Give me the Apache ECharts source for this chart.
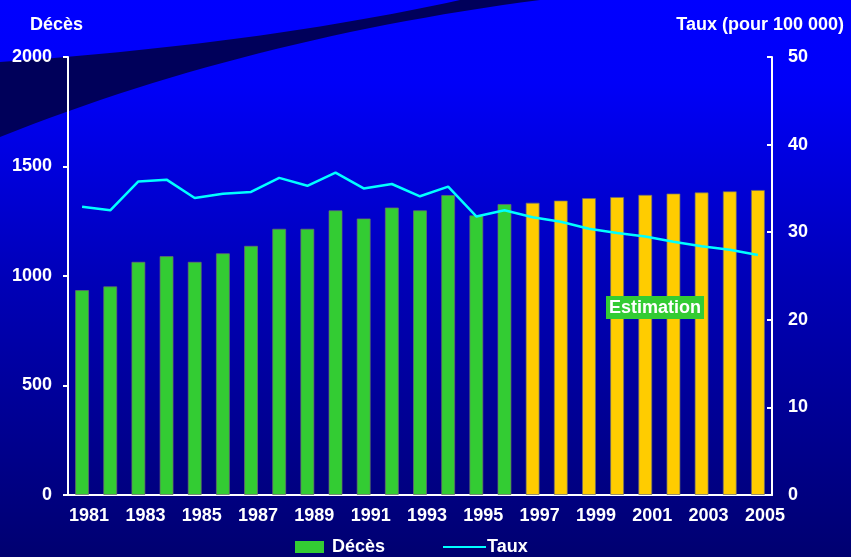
<!DOCTYPE html>
<html>
<head>
    <meta charset="UTF-8">
    <title>Décès et taux</title>
    <style>
        html, body { margin: 0; padding: 0; }
        #chart {
            width: 851px;
            height: 557px;
            background: linear-gradient(to bottom, #0000ff 0%, #0000f8 15%, #0000b8 50%, #000070 100%);
        }
    </style>
</head>
<body>
<div id="chart"></div>
<script src="https://cdn.jsdelivr.net/npm/echarts@6/dist/echarts.min.js"></script>
<script>
    // données
    var annees = ['1981', '1982', '1983', '1984', '1985', '1986', '1987', '1988', '1989', '1990',
        '1991', '1992', '1993', '1994', '1995', '1996', '1997', '1998', '1999', '2000',
        '2001', '2002', '2003', '2004', '2005'];
    var deces = [936, 953, 1065, 1091, 1065, 1104, 1138, 1216, 1216, 1300,
        1263, 1313, 1300, 1370, 1277, 1329, 1335, 1345, 1356, 1361,
        1371, 1377, 1382, 1387, 1393];
    var taux = [32.9, 32.5, 35.8, 36.0, 33.9, 34.4, 34.6, 36.2, 35.3, 36.8,
        35.0, 35.5, 34.1, 35.2, 31.8, 32.5, 31.7, 31.2, 30.4, 29.9,
        29.5, 28.9, 28.4, 28.0, 27.4];
    var premiereEstimation = '1997';

    var vert = '#33cc33';
    var jaune = '#ffcc00';
    var cyan = '#00ffff';
    var police = 'Liberation Sans, Arial, sans-serif';

    var debutEstim = annees.indexOf(premiereEstimation);
    var barres = deces.map(function (v, i) {
        return {
            value: v,
            itemStyle: { color: i >= debutEstim ? jaune : vert }
        };
    });

    // la bande sombre décorative en haut à gauche (deux courbes quadratiques)
    function courbe(p0, c, p1) {
        var pts = [];
        for (var k = 0; k <= 30; k++) {
            var t = k / 30, u = 1 - t;
            pts.push([u * u * p0[0] + 2 * u * t * c[0] + t * t * p1[0],
                      u * u * p0[1] + 2 * u * t * c[1] + t * t * p1[1]]);
        }
        return pts;
    }
    var bande = courbe([0, 62], [260, 44], [460, 0]).concat(courbe([540, 0], [248, 38], [0, 137]));

    var chart = echarts.init(document.getElementById('chart'));
    var txt = { color: '#fff', fontWeight: 'bold', fontFamily: police, fontSize: 18 };
    var lab = { color: '#fff', fontWeight: 'bold', fontFamily: police, fontSize: 18 };

    var option = {
        backgroundColor: 'transparent',
        animation: false,
        graphic: [{
            type: 'polygon',
            z: -1,
            shape: { points: bande },
            style: { fill: '#00005a' }
        }],
        title: [
            { text: 'Décès', left: 25, top: 11, textStyle: txt },
            { text: 'Taux (pour 100 000)', right: 2, top: 11, textStyle: txt },
            {
                text: 'Estimation', left: 606, top: 296, padding: [3, 3, 2, 3],
                backgroundColor: vert, textStyle: txt
            }
        ],
        legend: [{
            data: [{ name: 'Décès', icon: 'rect' }],
            left: 290, top: 533,
            itemWidth: 29, itemHeight: 12,
            itemStyle: { color: vert, borderWidth: 0 },
            textStyle: { color: '#fff', fontWeight: 'bold', fontFamily: police, fontSize: 18, padding: [0, 0, 0, 3] }
        }, {
            data: [{ name: 'Taux', icon: 'rect' }],
            left: 438, top: 533,
            itemWidth: 43, itemHeight: 2,
            itemStyle: { color: cyan, borderWidth: 0 },
            textStyle: { color: '#fff', fontWeight: 'bold', fontFamily: police, fontSize: 18, padding: [0, 0, 0, -4] }
        }],
        grid: { left: 68, right: 79, top: 57, bottom: 62 },
        xAxis: {
            type: 'category',
            data: annees,
            boundaryGap: true,
            axisLine: { lineStyle: { color: '#fff', width: 2 } },
            axisTick: { interval: 0, length: 3, lineStyle: { color: '#fff', width: 2 } },
            axisLabel: Object.assign({ interval: 1, margin: 12, padding: [0, 0, 0, 14] }, lab),
            splitLine: { show: false }
        },
        yAxis: [{
            type: 'value',
            min: 0, max: 2000, interval: 500,
            axisLine: { show: true, lineStyle: { color: '#fff', width: 2 } },
            axisTick: { show: true, length: 5, lineStyle: { color: '#fff', width: 2 } },
            axisLabel: Object.assign({ margin: 16, formatter: function (v) { return String(v); } }, lab),
            splitLine: { show: false }
        }, {
            type: 'value',
            min: 0, max: 50, interval: 10,
            axisLine: { show: true, lineStyle: { color: '#fff', width: 2 } },
            axisTick: { show: true, inside: true, length: 5, lineStyle: { color: '#fff', width: 2 } },
            axisLabel: Object.assign({ margin: 16 }, lab),
            splitLine: { show: false }
        }],
        series: [{
            name: 'Décès',
            type: 'bar',
            data: barres,
            barWidth: 14,
            itemStyle: { color: vert, borderColor: 'rgba(110,110,110,0.7)', borderWidth: 1 }
        }, {
            name: 'Taux',
            type: 'line',
            yAxisIndex: 1,
            data: taux,
            symbol: 'none',
            z: 3,
            itemStyle: { color: cyan },
            lineStyle: { color: cyan, width: 2.5 }
        }]
    };

    chart.setOption(option);
</script>
</body>
</html>
